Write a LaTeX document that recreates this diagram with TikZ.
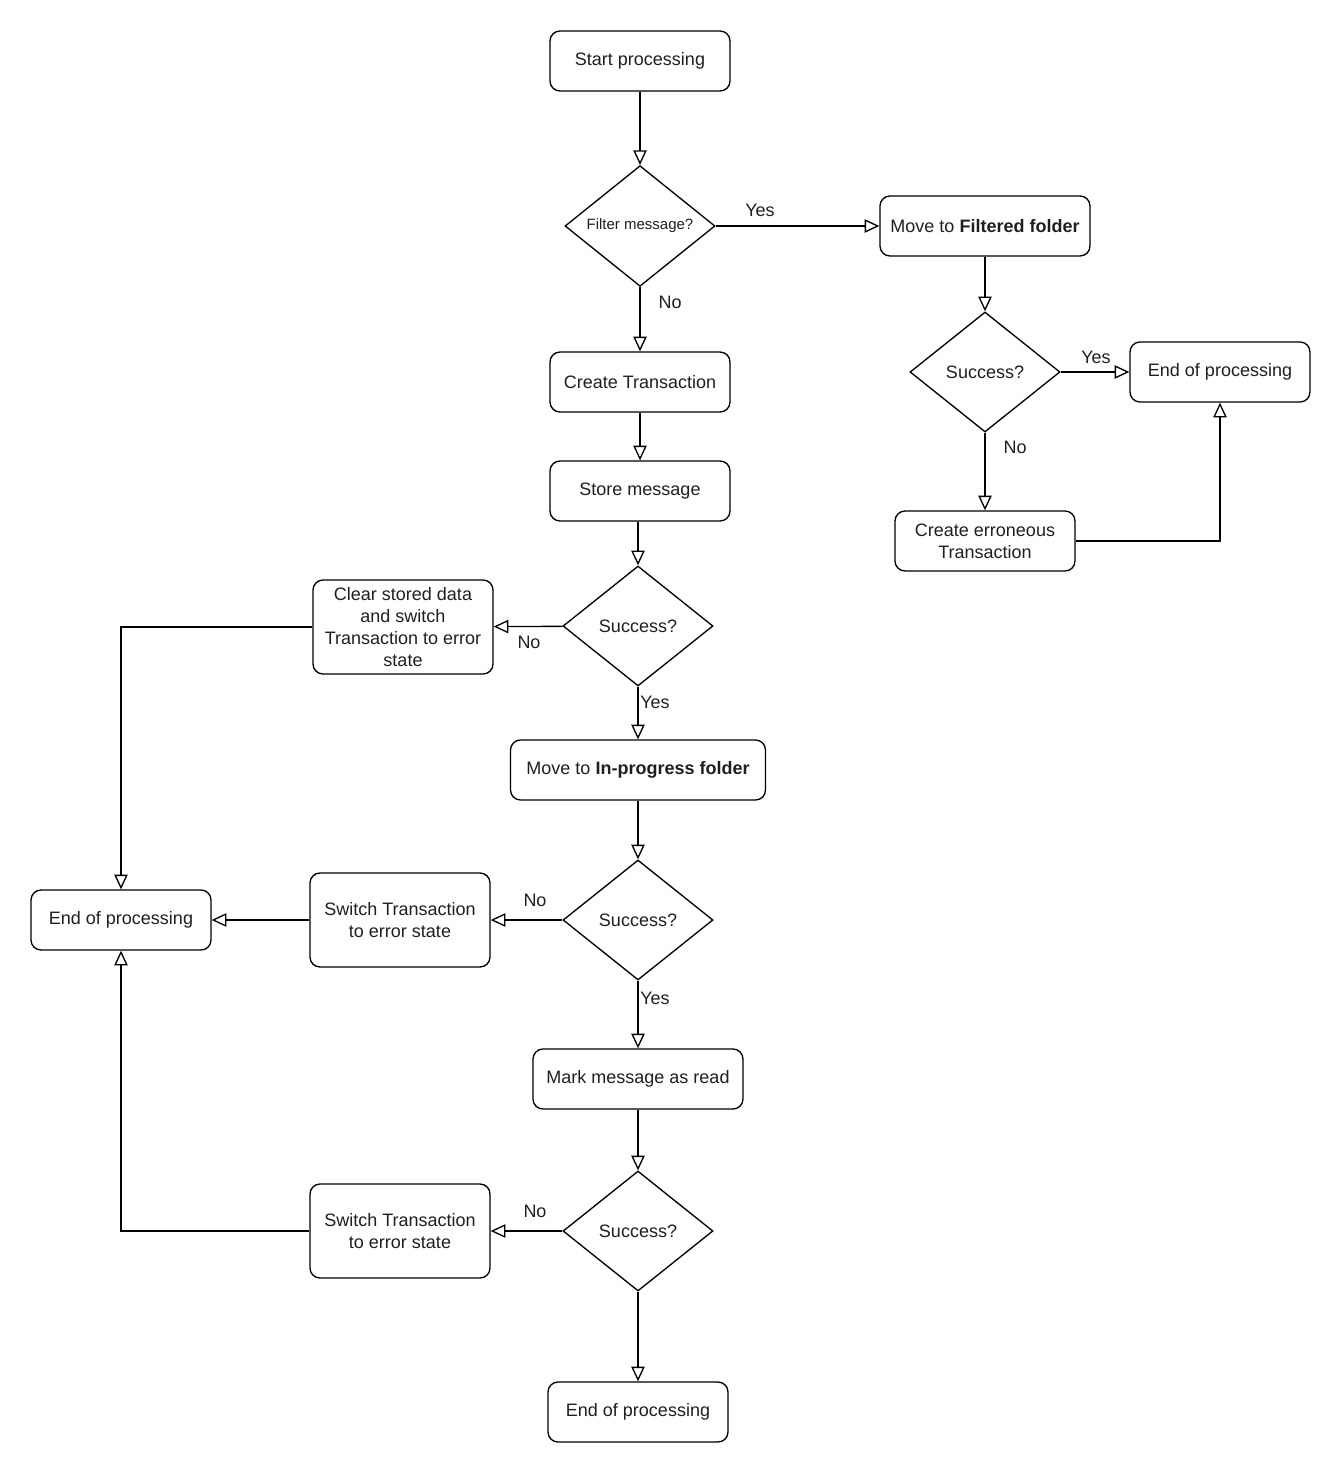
\documentclass[tikz,border=0pt]{standalone}
\usepackage{fontspec}
\setmainfont{Liberation Sans}
\usetikzlibrary{shapes.geometric,arrows.meta}
\begin{document}
\begin{tikzpicture}[x=0.75pt,y=-0.75pt,
 box/.style={draw, rounded corners=7.5pt, line width=1pt, minimum height=45pt, align=center, inner sep=0pt, font=\fontsize{13.5}{16.5}\selectfont, text=black!88},
 dec/.style={draw, diamond, line width=1pt, minimum width=112.5pt, minimum height=90pt, inner sep=0pt, font=\fontsize{13.5}{16}\selectfont, text=black!88},
 arr/.style={line width=1pt, -{Triangle[open,length=11pt,width=10pt]}},
 lbl/.style={font=\fontsize{13.5}{16}\selectfont, text=black!88, inner sep=0pt}]
\useasboundingbox (0,0) rectangle (1341,1473);

\node[box, minimum width=135pt] (start) at (640,61) {Start processing};
\node[dec, font=\fontsize{11.25}{13}\selectfont] (filter) at (640,226) {Filter message?};
\node[box, minimum width=157.5pt] (filtered) at (985,226) {Move to \textbf{Filtered folder}};
\node[dec] (s0) at (985,372) {Success?};
\node[box, minimum width=135pt] (endr) at (1220,372) {End of processing};
\node[box, minimum width=135pt] (err) at (985,541) {Create erroneous\\Transaction};
\node[box, minimum width=135pt] (create) at (640,382) {Create Transaction};
\node[box, minimum width=135pt] (store) at (640,491) {Store message};
\node[dec] (s1) at (638,626) {Success?};
\node[box, minimum width=135pt, minimum height=70.5pt] (clear) at (403,627) {Clear stored data\\and switch\\Transaction to error\\state};
\node[box, minimum width=191.25pt] (inprog) at (638,770) {Move to \textbf{In-progress folder}};
\node[dec] (s2) at (638,920) {Success?};
\node[box, minimum width=135pt, minimum height=70.5pt] (sw1) at (400,920) {Switch Transaction\\to error state};
\node[box, minimum width=135pt] (endl) at (121,920) {End of processing};
\node[box, minimum width=157.5pt] (mark) at (638,1079) {Mark message as read};
\node[dec] (s3) at (638,1231) {Success?};
\node[box, minimum width=135pt, minimum height=70.5pt] (sw2) at (400,1231) {Switch Transaction\\to error state};
\node[box, minimum width=135pt] (endb) at (638,1412) {End of processing};

\draw[arr] (start) -- (filter);
\draw[arr] (filter) -- (filtered) node[lbl] at (760,210) {Yes};
\draw[arr] (filter) -- (create) node[lbl] at (670,302) {No};
\draw[arr] (filtered) -- (s0);
\draw[arr] (s0) -- (endr) node[lbl] at (1096,357) {Yes};
\draw[arr] (s0) -- (err) node[lbl] at (1015,447) {No};
\draw[arr] (err) -| (endr);
\draw[arr] (create) -- (store);
\draw[arr] (store.south -| s1) -- (s1);
\draw[arr] (s1) -- (clear) node[lbl] at (529,642) {No};
\draw[arr] (s1) -- (inprog) node[lbl] at (655,702) {Yes};
\draw[arr] (clear) -| (endl);
\draw[arr] (inprog) -- (s2);
\draw[arr] (s2) -- (sw1) node[lbl] at (535,900) {No};
\draw[arr] (sw1) -- (endl);
\draw[arr] (s2) -- (mark) node[lbl] at (655,998) {Yes};
\draw[arr] (mark) -- (s3);
\draw[arr] (s3) -- (sw2) node[lbl] at (535,1211) {No};
\draw[arr] (sw2) -| (endl);
\draw[arr] (s3) -- (endb);
\end{tikzpicture}
\end{document}
